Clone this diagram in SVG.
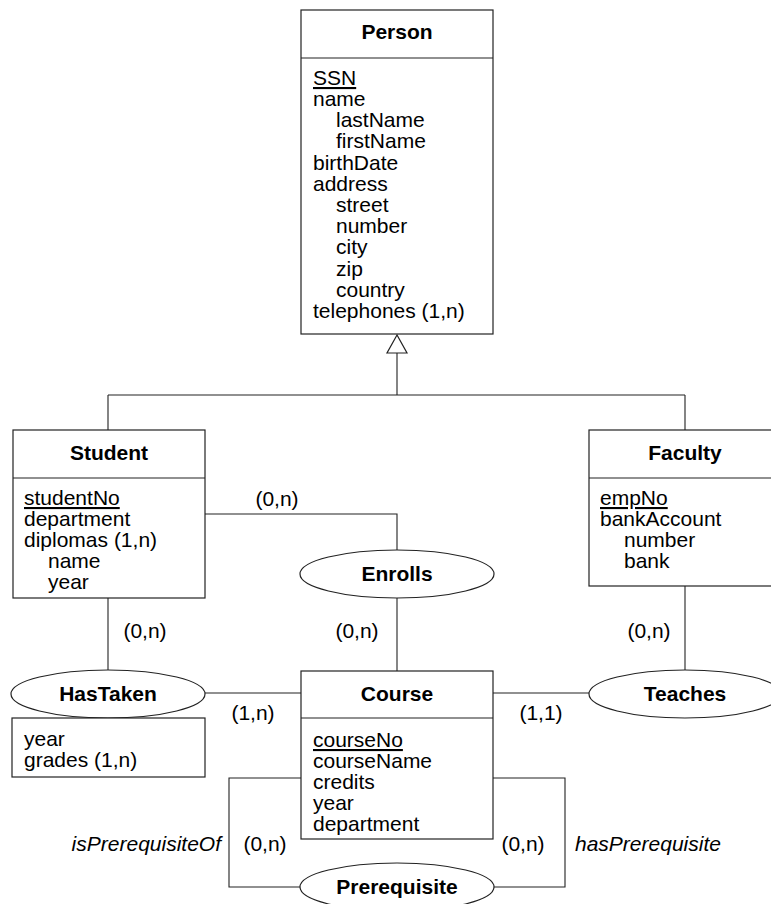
<svg xmlns="http://www.w3.org/2000/svg" width="771" height="904" viewBox="0 0 771 904">
<style>
text{font-family:"Liberation Sans",Arial,sans-serif;font-size:21px;fill:#000}
.t{font-weight:bold;text-anchor:middle}
.u{text-decoration:underline}
.i{font-style:italic}
.m{text-anchor:middle}
.box{fill:#fff;stroke:#222;stroke-width:1.2}
.ln{fill:none;stroke:#222;stroke-width:1.1}
</style>
<rect width="771" height="904" fill="#fff"/>
<g id="connectors">
<polygon points="397,335 387,353 407,353" class="box"/>
<path class="ln" d="M397 353V395M108 395H685M108 395V430M685 395V430"/>
<path class="ln" d="M205 514H397V550"/>
<path class="ln" d="M397 598V671"/>
<path class="ln" d="M108 598V670"/>
<path class="ln" d="M685 586V670"/>
<path class="ln" d="M205 693H301"/>
<path class="ln" d="M493 693H589"/>
<path class="ln" d="M301 778H229V887H300"/>
<path class="ln" d="M493 778H565V887H494"/>
<text x="277" y="506" class="m">(0,n)</text>
<text x="145" y="638" class="m">(0,n)</text>
<text x="357" y="638" class="m">(0,n)</text>
<text x="649" y="638" class="m">(0,n)</text>
<text x="253" y="720" class="m">(1,n)</text>
<text x="541" y="720" class="m">(1,1)</text>
<text x="265" y="851" class="m">(0,n)</text>
<text x="523" y="851" class="m">(0,n)</text>
<text x="221" y="851" class="i" text-anchor="end">isPrerequisiteOf</text>
<text x="575" y="851" class="i">hasPrerequisite</text>
</g>
<g id="person">
<rect x="301" y="10" width="192" height="324" class="box"/>
<line x1="301" y1="58" x2="493" y2="58" class="ln"/>
<text x="397" y="39" class="t">Person</text>
<text x="313" y="85" class="u">SSN</text>
<text x="313" y="106">name</text>
<text x="336" y="127">lastName</text>
<text x="336" y="148">firstName</text>
<text x="313" y="170">birthDate</text>
<text x="313" y="191">address</text>
<text x="336" y="212">street</text>
<text x="336" y="233">number</text>
<text x="336" y="254">city</text>
<text x="336" y="276">zip</text>
<text x="336" y="297">country</text>
<text x="313" y="318">telephones (1,n)</text>
</g>
<g id="student">
<rect x="13" y="430" width="192" height="168" class="box"/>
<line x1="13" y1="478" x2="205" y2="478" class="ln"/>
<text x="109" y="460" class="t">Student</text>
<text x="24" y="505" class="u">studentNo</text>
<text x="24" y="526">department</text>
<text x="24" y="547">diplomas (1,n)</text>
<text x="48" y="568">name</text>
<text x="48" y="589">year</text>
</g>
<g id="faculty">
<rect x="589" y="430" width="192" height="156" class="box"/>
<line x1="589" y1="478" x2="781" y2="478" class="ln"/>
<text x="685" y="460" class="t">Faculty</text>
<text x="600" y="505" class="u">empNo</text>
<text x="600" y="526">bankAccount</text>
<text x="624" y="547">number</text>
<text x="624" y="568">bank</text>
</g>
<g id="enrolls">
<ellipse cx="397" cy="574" rx="97" ry="24" class="box"/>
<text x="397" y="581" class="t">Enrolls</text>
</g>
<g id="hastaken">
<ellipse cx="108" cy="694" rx="97" ry="24" class="box"/>
<text x="108" y="701" class="t">HasTaken</text>
<rect x="12" y="718" width="193" height="59" class="box"/>
<text x="24" y="746">year</text>
<text x="24" y="767">grades (1,n)</text>
</g>
<g id="course">
<rect x="301" y="671" width="192" height="168" class="box"/>
<line x1="301" y1="718" x2="493" y2="718" class="ln"/>
<text x="397" y="701" class="t">Course</text>
<text x="313" y="747" class="u">courseNo</text>
<text x="313" y="768">courseName</text>
<text x="313" y="789">credits</text>
<text x="313" y="810">year</text>
<text x="313" y="831">department</text>
</g>
<g id="teaches">
<ellipse cx="685" cy="694" rx="96" ry="24" class="box"/>
<text x="685" y="701" class="t">Teaches</text>
</g>
<g id="prerequisite">
<ellipse cx="397" cy="887" rx="97" ry="24" class="box"/>
<text x="397" y="894" class="t">Prerequisite</text>
</g>
</svg>
